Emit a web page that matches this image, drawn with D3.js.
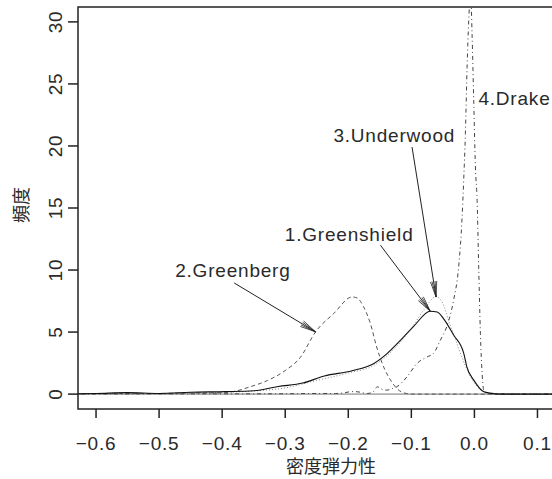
<!DOCTYPE html>
<html>
<head>
<meta charset="utf-8">
<script src="https://cdn.jsdelivr.net/npm/d3@7"></script>
<style>
  body { margin: 0; background: #fff; }
  text { font-family: "Liberation Sans", Arial, sans-serif; fill: #2a2a2a; }
  .cjk { font-family: "Noto Sans CJK JP", sans-serif; }
</style>
</head>
<body>
<div id="chart"></div>
<script>
// density curves, [elasticity, frequency]
const greenshield = [[-0.63,0.03],[-0.6,0.05],[-0.551,0.12],[-0.5,0.05],[-0.45,0.15],[-0.395,0.2],[-0.35,0.27],
  [-0.311,0.61],[-0.272,0.89],[-0.238,1.46],[-0.194,1.88],[-0.16,2.45],[-0.139,3.24],[-0.117,4.35],[-0.096,5.48],
  [-0.07,6.68],[-0.059,6.62],[-0.049,6.09],[-0.033,4.76],[-0.017,3.3],[-0.012,2.2],[-0.001,1.13],[0.015,0.19],
  [0.025,0.08],[0.041,0.0],[0.15,0.0]];
const greenberg = [[-0.63,0.02],[-0.55,0.05],[-0.5,0.05],[-0.45,0.08],[-0.4,0.1],[-0.3835,0.19],[-0.355,0.6],
  [-0.328,1.1],[-0.3,1.9],[-0.276,2.96],[-0.252,5.01],[-0.223,6.5],[-0.194,7.83],[-0.186,7.75],[-0.176,7.06],
  [-0.165,5.7],[-0.155,3.8],[-0.144,2.2],[-0.133,1.13],[-0.123,0.45],[-0.112,0.1],[-0.1,0.0],[0.15,0.0]];
const underwood = [[-0.63,0.02],[-0.5,0.03],[-0.45,0.08],[-0.4,0.15],[-0.35,0.25],[-0.3,0.5],[-0.25,1.1],
  [-0.2,1.7],[-0.16,2.3],[-0.13,3.5],[-0.1,5.3],[-0.08,6.8],[-0.061,7.85],[-0.05,7.3],[-0.04,5.8],[-0.03,4.4],
  [-0.02,3.0],[-0.01,1.8],[0.0,0.9],[0.01,0.35],[0.02,0.1],[0.03,0.02],[0.15,0.0]];
const drake = [[-0.63,0.0],[-0.5,0.02],[-0.4,0.02],[-0.3,0.03],[-0.25,0.05],[-0.22,0.05],[-0.207,0.1],
  [-0.195,0.2],[-0.186,0.19],[-0.17,0.05],[-0.16,0.2],[-0.154,0.59],[-0.145,0.35],[-0.139,0.32],[-0.13,0.45],
  [-0.123,0.59],[-0.107,1.39],[-0.091,2.47],[-0.075,3.0],[-0.065,3.27],[-0.054,4.35],[-0.044,5.42],
  [-0.033,7.57],[-0.025,10.25],[-0.0195,14.28],[-0.017,17.23],[-0.0143,20.99],[-0.0116,26.35],[-0.009,30.1],
  [-0.006,32.5],[-0.0037,29.0],[-0.0011,23.7],[0.0016,18.3],[0.0043,15.6],[0.0068,10.25],[0.0095,4.89],
  [0.0122,1.67],[0.0148,0.32],[0.0202,0.1],[0.03,0.02],[0.15,0.0]];

const xTicks = [-0.6, -0.5, -0.4, -0.3, -0.2, -0.1, 0.0, 0.1];
const yTicks = [0, 5, 10, 15, 20, 25, 30];

// labels: text, label centre (x, y), arrow start, arrow end
const labels = [
  { text: '2.Greenberg', x: -0.383, y: 10.0, from: [-0.381, 8.96], to: [-0.252, 5.02] },
  { text: '1.Greenshield', x: -0.1986, y: 12.9, from: [-0.149, 12.0], to: [-0.070, 6.68] },
  { text: '3.Underwood', x: -0.127, y: 20.85, from: [-0.0989, 19.91], to: [-0.0608, 7.83] },
  { text: '4.Drake', x: 0.0635, y: 23.8, from: null, to: null }
];

const width = 552, height = 479;
const plot = { left: 78, top: 7, bottom: 409, right: 569 };

const svg = d3.select('#chart').append('svg')
  .attr('width', width)
  .attr('height', height);

const x = d3.scaleLinear().domain([-0.6286, 0.15]).range([plot.left, plot.right]);
const y = d3.scaleLinear().domain([-1.2, 31.2]).range([plot.bottom, plot.top]);

svg.append('defs').append('clipPath').attr('id', 'clip')
  .append('rect')
  .attr('x', plot.left).attr('y', plot.top)
  .attr('width', plot.right - plot.left).attr('height', plot.bottom - plot.top);

const g = svg.append('g').attr('clip-path', 'url(#clip)');

// zero line
g.append('line')
  .attr('x1', plot.left).attr('x2', plot.right)
  .attr('y1', y(0)).attr('y2', y(0))
  .attr('stroke', '#b0b0b0').attr('stroke-width', 1.6);

const line = d3.line().x(d => x(d[0])).y(d => y(d[1])).curve(d3.curveMonotoneX);

const series = [
  { data: greenberg, color: '#555', dash: '4,3', w: 1 },
  { data: underwood, color: '#888', dash: '1,2', w: 1 },
  { data: drake, color: '#444', dash: '1,3,4,3', w: 1 },
  { data: greenshield, color: '#111', dash: null, w: 1.1 }
];

series.forEach(s => {
  g.append('path')
    .attr('d', line(s.data))
    .attr('fill', 'none')
    .attr('stroke', s.color)
    .attr('stroke-width', s.w)
    .attr('stroke-dasharray', s.dash);
});

// frame
svg.append('rect')
  .attr('x', plot.left).attr('y', plot.top)
  .attr('width', plot.right - plot.left).attr('height', plot.bottom - plot.top)
  .attr('fill', 'none').attr('stroke', '#222').attr('stroke-width', 1.5);

// x axis
const xa = svg.append('g');
xa.selectAll('line').data(xTicks).enter().append('line')
  .attr('x1', d => x(d)).attr('x2', d => x(d))
  .attr('y1', plot.bottom).attr('y2', plot.bottom + 9)
  .attr('stroke', '#222').attr('stroke-width', 1.5);
xa.selectAll('text').data(xTicks).enter().append('text')
  .attr('x', d => x(d)).attr('y', 443)
  .attr('text-anchor', 'middle').attr('dominant-baseline', 'central')
  .attr('font-size', 19).attr('letter-spacing', 0.8)
  .text(d => d3.format('.1f')(d).replace('-', '\u2212'));

// y axis
const ya = svg.append('g');
ya.selectAll('line').data(yTicks).enter().append('line')
  .attr('x1', plot.left - 10).attr('x2', plot.left)
  .attr('y1', d => y(d)).attr('y2', d => y(d))
  .attr('stroke', '#222').attr('stroke-width', 1.5);
ya.selectAll('text').data(yTicks).enter().append('text')
  .attr('transform', d => `translate(55, ${y(d)}) rotate(-90)`)
  .attr('text-anchor', 'middle').attr('dominant-baseline', 'central')
  .attr('font-size', 19).attr('letter-spacing', 0.8)
  .text(d => d);

// axis titles
svg.append('text').attr('class', 'cjk')
  .attr('x', 331).attr('y', 465)
  .attr('text-anchor', 'middle').attr('dominant-baseline', 'central')
  .attr('font-size', 18)
  .text('密度弾力性');
svg.append('text').attr('class', 'cjk')
  .attr('transform', `translate(20, 205) rotate(-90)`)
  .attr('text-anchor', 'middle').attr('dominant-baseline', 'central')
  .attr('font-size', 18)
  .text('頻度');

// annotations
const ann = svg.append('g');
labels.forEach(l => {
  ann.append('text')
    .attr('x', x(l.x)).attr('y', y(l.y))
    .attr('text-anchor', 'middle').attr('dominant-baseline', 'central')
    .attr('font-size', 19).attr('letter-spacing', 0.8)
    .text(l.text);
  if (!l.from) return;
  const x1 = x(l.from[0]), y1 = y(l.from[1]);
  const x2 = x(l.to[0]), y2 = y(l.to[1]);
  ann.append('line')
    .attr('x1', x1).attr('y1', y1).attr('x2', x2).attr('y2', y2)
    .attr('stroke', '#222').attr('stroke-width', 1);
  const ang = Math.atan2(y1 - y2, x1 - x2);
  const headLen = 16;
  [-0.2, -0.1, 0.1, 0.2].forEach(da => {
    ann.append('line')
      .attr('x1', x2).attr('y1', y2)
      .attr('x2', x2 + headLen * Math.cos(ang + da))
      .attr('y2', y2 + headLen * Math.sin(ang + da))
      .attr('stroke', '#222').attr('stroke-width', 0.8);
  });
});
</script>
</body>
</html>
